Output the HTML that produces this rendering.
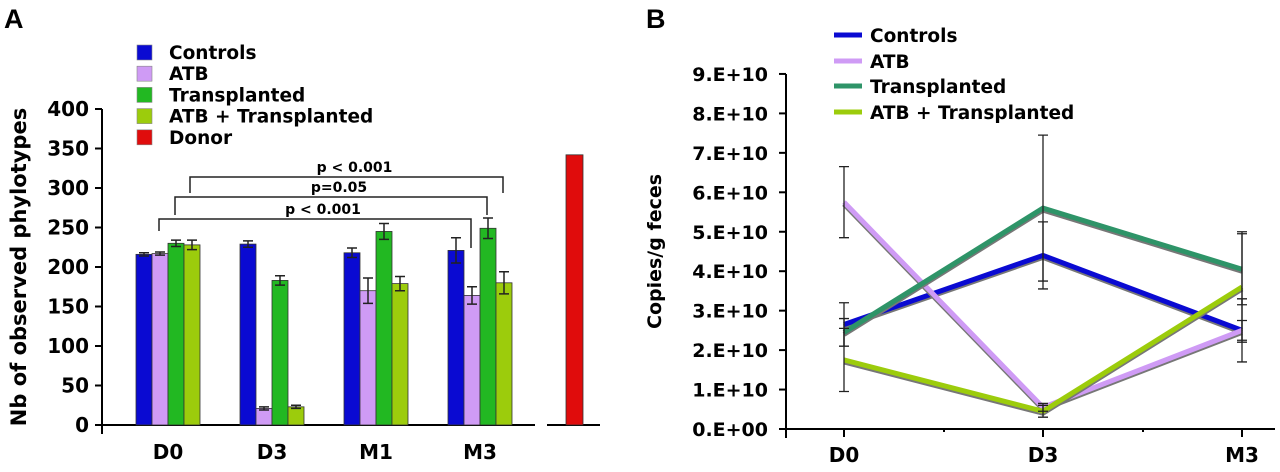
<!DOCTYPE html>
<html><head><meta charset="utf-8"><style>
body{margin:0;background:#fff;}
svg{display:block;font-family:"DejaVu Sans","Liberation Sans",sans-serif;font-weight:bold;}
</style></head><body>
<svg id="c" width="1280" height="472" viewBox="0 0 1280 472" xmlns="http://www.w3.org/2000/svg"></svg>
<script>
// ---------- Panel A data ----------
const barGroups = ["D0","D3","M1","M3"];
const barSeries = ["Controls","ATB","Transplanted","ATB + Transplanted"];
const barColors = ["#0a0ad2","#cf9bf5","#22b822","#9ccc0c"];
const ctrlVals = [216,229,218,221];
const atbVals = [217,21,170,164];
const transVals = [230,183,245,249];
const atbTransVals = [228,23,179,180];
const ctrlErr = [2,4,6,16];
const atbErr = [2,2,16,11];
const transErr = [4,6,10,13];
const atbTransErr = [6,2,9,14];
const donorVal = 342;
const yTicksA = [0,50,100,150,200,250,300,350,400];
// ---------- Panel B data ----------
const lineCats = ["D0","D3","M3"];
const lineSeries = ["Controls","ATB","Transplanted","ATB + Transplanted"];
const lineColors = ["#0a0ad2","#cf9bf5","#2e9468","#9ccc0c"];
const ctrlLine = [2.65,4.4,2.5];
const atbLine = [5.75,0.55,2.5];
const transLine = [2.45,5.6,4.05];
const atbTransLine = [1.75,0.45,3.6];
const ctrlLineErr = [0.55,0.85,0.8];
const atbLineErr = [0.9,0.1,0.25];
const transLineErr = [0.35,1.85,0.9];
const atbTransLineErr = [0.8,0.15,1.4];
const yTicksB = [0,1,2,3,4,5,6,7,8,9];
const yTickLabelsB = ["0.E+00","1.E+10","2.E+10","3.E+10","4.E+10","5.E+10","6.E+10","7.E+10","8.E+10","9.E+10"];

const NS="http://www.w3.org/2000/svg";
const svg=document.getElementById('c');
function mk(tag,attrs,parent){const e=document.createElementNS(NS,tag);for(const k in attrs)e.setAttribute(k,attrs[k]);(parent||svg).appendChild(e);return e;}
function txt(s,attrs,parent){const e=mk('text',attrs,parent);e.textContent=s;return e;}

// ===== Panel A =====
const gA=mk('g',{});


const yA=v=>425-v*0.79;
const groupX=i=>136+i*104;
const barW=16;
const lA=txt('A',{x:4,y:28,'font-size':27,'font-family':'Liberation Sans, sans-serif'},gA);


const ax=mk('path',{d:`M102,${yA(400)} V${yA(0)+9} M102,${yA(0)} H535 M547,${yA(0)} H600`,stroke:'#000','stroke-width':2,fill:'none'},gA);


yTicksA.forEach(t=>{
  mk('line',{x1:95,x2:102,y1:yA(t),y2:yA(t),stroke:'#000','stroke-width':2},gA);
  const tl=txt(String(t),{x:89,y:yA(t)+7,'font-size':20,'text-anchor':'end'},gA);
  
  
});
const yt=txt('Nb of observed phylotypes',{x:0,y:0,'font-size':21,'text-anchor':'middle',transform:`translate(26,${yA(200)}) rotate(-90)`},gA);


const vals=[ctrlVals,atbVals,transVals,atbTransVals];
const errs=[ctrlErr,atbErr,transErr,atbTransErr];
barGroups.forEach((g,i)=>{
  const xl=txt(g,{x:groupX(i)+32,y:459,'font-size':20,'text-anchor':'middle'},gA);
  
  
  vals.forEach((arr,s)=>{
    const x=groupX(i)+s*barW, v=arr[i];
    const r=mk('rect',{x:x,y:yA(v),width:barW,height:yA(0)-yA(v),fill:barColors[s],stroke:'#333','stroke-width':0.8},gA);
    
    
    const e=errs[s][i], cx=x+barW/2;
    mk('path',{d:`M${cx},${yA(v+e)} V${yA(v-e)} M${cx-5},${yA(v+e)} H${cx+5} M${cx-5},${yA(v-e)} H${cx+5}`,stroke:'#222','stroke-width':1.5,fill:'none'},gA);
  });
});
const dr=mk('rect',{x:566,y:yA(donorVal),width:17,height:yA(0)-yA(donorVal),fill:'#e00c0c',stroke:'#333','stroke-width':0.8},gA);


const brackets=[[190,503,177,193,193,'p < 0.001'],[175,487,197,215,215,'p=0.05'],[159,471,219,231,248,'p < 0.001']];
brackets.forEach(b=>{
  const p=mk('path',{d:`M${b[0]},${b[3]} V${b[2]} H${b[1]} V${b[4]}`,stroke:'#222','stroke-width':1.5,fill:'none'},gA);
  
  
  const t=txt(b[5],{x:(b[0]+b[1])/2+8,y:b[2]-5,'font-size':14,'text-anchor':'middle'},gA);
  
  
});
const legA=barSeries.concat(['Donor']);
const legAc=barColors.concat(['#e00c0c']);
legA.forEach((s,i)=>{
  const cy=52+i*21.2;
  const r=mk('rect',{x:137,y:cy-7,width:15,height:15,fill:legAc[i],stroke:'#888','stroke-width':0.6},gA);
  
  
  const t=txt(s,{x:169,y:cy+7,'font-size':18.5},gA);
  
  
});

// ===== Panel B =====
const gB=mk('g',{});


const yB=v=>429-v*39.45;
const xB=i=>844+i*199;
const lB=txt('B',{x:646,y:28,'font-size':27,'font-family':'Liberation Sans, sans-serif'},gB);


const axB=mk('path',{d:`M786,${yB(9)} V${yB(0)+9} M786,${yB(0)} H1275`,stroke:'#000','stroke-width':2,fill:'none'},gB);


yTicksB.forEach((t,i)=>{
  mk('line',{x1:779,x2:786,y1:yB(t),y2:yB(t),stroke:'#000','stroke-width':2},gB);
  const tl=txt(yTickLabelsB[i],{x:768,y:yB(t)+7,'font-size':19,'text-anchor':'end'},gB);
  
  
});
const ytb=txt('Copies/g feces',{x:0,y:0,'font-size':19,'text-anchor':'middle',transform:`translate(661,${yB(4.5)}) rotate(-90)`},gB);


lineCats.forEach((c,i)=>{
  mk('line',{x1:xB(i),x2:xB(i),y1:yB(0),y2:yB(0)+8,stroke:'#000','stroke-width':2},gB);
  if(i<lineCats.length-1) mk('line',{x1:xB(i)+100,x2:xB(i)+100,y1:yB(0),y2:yB(0)+3,stroke:'#000','stroke-width':2},gB);
  const xl=txt(c,{x:xB(i),y:462,'font-size':20,'text-anchor':'middle'},gB);
  
  
});
const lvals=[ctrlLine,atbLine,transLine,atbTransLine];
const lerrs=[ctrlLineErr,atbLineErr,transLineErr,atbTransLineErr];
lvals.forEach((arr,s)=>{
  mk('polyline',{points:arr.map((v,i)=>xB(i)+','+(yB(v)+2)).join(' '),stroke:'#777','stroke-width':5,fill:'none'},gB);
  const pl=mk('polyline',{points:arr.map((v,i)=>xB(i)+','+yB(v)).join(' '),stroke:lineColors[s],'stroke-width':5,fill:'none'},gB);
  
  
});
lvals.forEach((arr,s)=>{
  arr.forEach((v,i)=>{
    const e=lerrs[s][i],cx=xB(i);
    const eb=mk('path',{d:`M${cx},${yB(v+e)} V${yB(v-e)} M${cx-5},${yB(v+e)} H${cx+5} M${cx-5},${yB(v-e)} H${cx+5}`,stroke:'#222','stroke-width':1.3,fill:'none'},gB);
    
    
  });
});
lineSeries.forEach((s,i)=>{
  const cy=[35,61,86,112][i];
  const l=mk('line',{x1:834,x2:862,y1:cy,y2:cy,stroke:lineColors[i],'stroke-width':5},gB);
  
  
  const t=txt(s,{x:870,y:cy+7,'font-size':18.5},gB);
  
  
});
</script>
</body></html>
